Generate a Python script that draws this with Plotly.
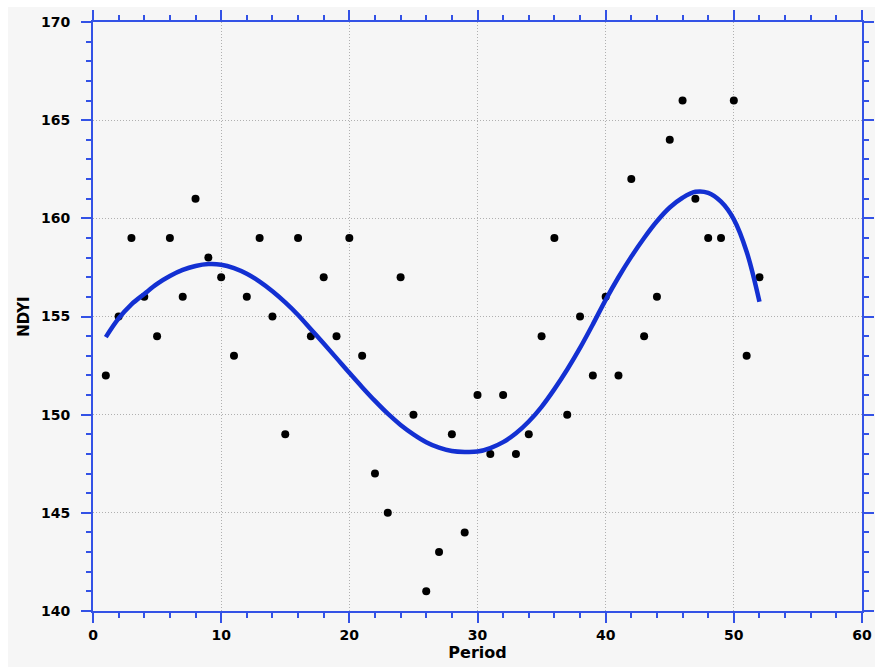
import plotly.graph_objects as go

period = list(range(1, 53))
ndyi = [152, 155, 159, 156, 154, 159, 156, 161, 158, 157,
        153, 156, 159, 155, 149, 159, 154, 157, 154, 159,
        153, 147, 145, 157, 150, 141, 143, 149, 144, 151,
        148, 151, 148, 149, 154, 159, 150, 155, 152, 156,
        152, 162, 154, 156, 164, 166, 161, 159, 159, 166,
        153, 157]

fit_x = list(range(1, 53))
fit_y = [153.95, 154.9, 155.62, 156.15, 156.66, 157.06, 157.37, 157.57, 157.67, 157.64,
         157.47, 157.18, 156.78, 156.29, 155.72, 155.08, 154.35, 153.62, 152.88, 152.13,
         151.4, 150.7, 150.05, 149.48, 149.0, 148.6, 148.32, 148.15, 148.1, 148.12,
         148.3, 148.6, 149.05, 149.65, 150.4, 151.3, 152.3, 153.4, 154.6, 155.85,
         157.0, 158.05, 159.0, 159.85, 160.55, 161.05, 161.35, 161.3, 160.85, 159.95,
         158.3, 155.75]

x_range = [0, 60]
y_range = [140, 170]

AXIS = "#3352e6"
CURVE = "#1330d2"
BG = "#f6f6f6"

fig = go.Figure()
fig.add_trace(go.Scatter(x=period, y=ndyi, mode="markers",
                         marker=dict(color="black", size=8), showlegend=False))
fig.add_trace(go.Scatter(x=fit_x, y=fit_y, mode="lines",
                         line=dict(color=CURVE, width=4.5, shape="spline"), showlegend=False))

axis_common = dict(
    showline=True, linecolor=AXIS, linewidth=2, mirror="ticks",
    ticks="outside", ticklen=10, tickwidth=2, tickcolor=AXIS,
    showgrid=True, gridcolor="#b0b0b0", griddash="1px,2px", gridwidth=1,
    zeroline=False, automargin=False,
    tickfont=dict(family="DejaVu Sans", size=14, color="black", weight="bold"),
)

fig.update_xaxes(range=x_range, dtick=10, tick0=0,
                 minor=dict(dtick=2, ticks="outside", ticklen=5, tickwidth=2,
                            tickcolor=AXIS, showgrid=False),
                 title=dict(text="Period", standoff=4,
                            font=dict(family="DejaVu Sans", size=16, color="black", weight="bold")),
                 **axis_common)
fig.update_yaxes(range=y_range, dtick=5, tick0=140,
                 minor=dict(dtick=1, ticks="outside", ticklen=5, tickwidth=2,
                            tickcolor=AXIS, showgrid=False),
                 ticklabelstandoff=8,
                 title=dict(text="NDYI", standoff=8,
                            font=dict(family="DejaVu Sans", size=15, color="black", weight="bold")),
                 **axis_common)

fig.add_shape(type="rect", xref="paper", yref="paper",
              x0=-0.1105, x1=1.02, y0=-0.095, y1=1.0255,
              fillcolor=BG, line=dict(width=0), layer="below")

fig.update_layout(
    width=875, height=667,
    margin=dict(l=93, r=13, t=22, b=56),
    paper_bgcolor="white", plot_bgcolor=BG,
    showlegend=False,
)

fig.write_html("out.html")
